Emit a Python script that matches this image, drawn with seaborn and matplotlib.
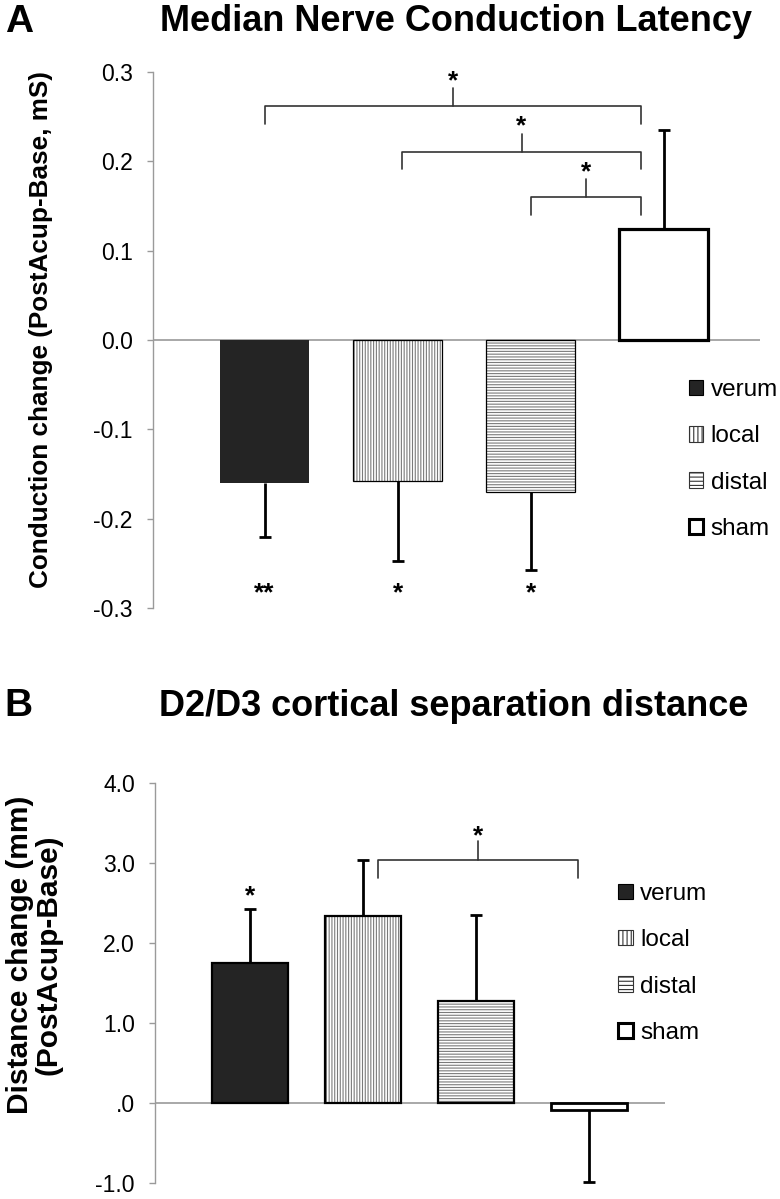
import numpy as np
import pandas as pd
import matplotlib
matplotlib.use('Agg')
import matplotlib.pyplot as plt
import seaborn as sns
from matplotlib.patches import Rectangle, Patch
from matplotlib.ticker import FixedLocator, FixedFormatter

groups = ['verum', 'local', 'distal', 'sham']

# panel A: median nerve conduction latency change (mS)
latency_mean = [-0.160, -0.158, -0.170, 0.124]
latency_err = [0.061, 0.089, 0.088, 0.111]
latency_stars = ['**', '*', '*', '']
latency_ticks = [-0.3, -0.2, -0.1, 0.0, 0.1, 0.2, 0.3]
latency_ticklabels = ['-0.3', '-0.2', '-0.1', '0.0', '0.1', '0.2', '0.3']

# panel B: D2/D3 cortical separation distance change (mm)
distance_mean = [1.75, 2.34, 1.275, -0.087]
distance_err = [0.68, 0.70, 1.075, 0.90]
distance_stars = ['*', '', '', '']
distance_ticks = [-1.0, 0.0, 1.0, 2.0, 3.0, 4.0]
distance_ticklabels = ['-1.0', '.0', '1.0', '2.0', '3.0', '4.0']

fills = ['#242424', 'white', 'white', 'white']
hatches = [None, '||||||', '------', None]

sns.set_style('white')
plt.rcParams['font.family'] = ['Liberation Sans', 'DejaVu Sans']
plt.rcParams['text.color'] = 'black'
plt.rcParams['ytick.color'] = 'black'
plt.rcParams['hatch.linewidth'] = 0.8

STAR_SIZE = 19


def draw_panel(ax, means, errs, edge_lw, sham_lw, no_edge_first=False):
    df = pd.DataFrame({'group': groups, 'value': means})
    sns.barplot(data=df, x='group', y='value', hue='group', palette=fills,
                width=0.67, errorbar=None, legend=False, ax=ax, saturation=1)
    centers = []
    for i, p in enumerate(ax.patches[:4]):
        p.set_linewidth(0)
        if hatches[i]:
            p.set_hatch(hatches[i])
            p.set_edgecolor('#7a7a7a')
        lw = sham_lw if i == 3 else edge_lw
        if not (no_edge_first and i == 0):
            ax.add_patch(Rectangle((p.get_x(), p.get_y()), p.get_width(), p.get_height(),
                                   fill=False, ec='black', lw=lw, zorder=3))
        centers.append(p.get_x() + p.get_width() / 2)
    means = np.array(means)
    errs = np.array(errs)
    lower = np.where(means < 0, errs, 0)
    upper = np.where(means >= 0, errs, 0)
    _, caps, _ = ax.errorbar(centers, means, yerr=[lower, upper], fmt='none',
                             ecolor='black', elinewidth=2, capsize=4.5, capthick=2,
                             zorder=0.5)
    # keep only the cap at the far end of each one-sided bar
    xs = np.array(centers)
    caps[0].set_data(xs[lower > 0], (means - lower)[lower > 0])
    caps[1].set_data(xs[upper > 0], (means + upper)[upper > 0])
    ax.axhline(0, color='#9a9a9a', lw=1.2, zorder=0.4)
    sns.despine(ax=ax, bottom=True)
    ax.spines['left'].set_color('#9a9a9a')
    ax.spines['left'].set_linewidth(1)
    ax.set_xticks([])
    ax.set_xlabel('')
    ax.set_ylabel('')
    ax.tick_params(axis='y', direction='out', length=4.5, width=1, color='#9a9a9a',
                   labelcolor='black', labelsize=16.5, pad=10, left=True)
    return centers


def bracket(ax, x0, x1, y, leg, star_dy):
    xm = (x0 + x1) / 2
    ax.plot([x0, x0, x1, x1], [y - leg, y, y, y - leg], color='#333333', lw=1.2)
    ax.plot([xm, xm], [y, y + leg], color='#333333', lw=1.2)
    ax.text(xm, y + leg + star_dy, '*', ha='center', va='center', fontsize=STAR_SIZE,
            fontweight='bold')


def legend_handles():
    return [Patch(facecolor=fills[0], edgecolor='black', lw=0.8),
            Patch(facecolor='white', edgecolor='#333333', hatch='||||', lw=0.8),
            Patch(facecolor='white', edgecolor='#333333', hatch='----', lw=0.8),
            Patch(facecolor='white', edgecolor='black', lw=2.2)]


legend_kw = dict(loc='upper left', frameon=False, fontsize=17.5,
                 handlelength=0.6, handleheight=0.6, handletextpad=0.3,
                 labelspacing=1.0, borderpad=0, borderaxespad=0)

fig = plt.figure(figsize=(7.8, 11.99), dpi=100)

# ---- panel A
axA = fig.add_axes([0.196, 0.4929, 0.778, 0.447])
cA = draw_panel(axA, latency_mean, latency_err, edge_lw=0.9, sham_lw=2.3,
                no_edge_first=True)
axA.set_ylim(-0.3, 0.3)
axA.set_xlim(-0.84, 3.72)
axA.yaxis.set_major_locator(FixedLocator(latency_ticks))
axA.yaxis.set_major_formatter(FixedFormatter(latency_ticklabels))
for x, s in zip(cA, latency_stars):
    if s:
        axA.text(x, -0.283, s, ha='center', va='center', fontsize=STAR_SIZE,
                 fontweight='bold')
bracket(axA, cA[0], cA[3] - 0.17, 0.262, 0.02, 0.008)
bracket(axA, cA[1] + 0.03, cA[3] - 0.17, 0.211, 0.02, 0.008)
bracket(axA, cA[2], cA[3] - 0.17, 0.160, 0.02, 0.008)
axA.legend(handles=legend_handles(), labels=groups,
           bbox_to_anchor=(0.883, 0.427), **legend_kw)

fig.text(0.006, 0.982, 'A', fontsize=28, fontweight='bold', ha='left', va='center')
fig.text(0.585, 0.982, 'Median Nerve Conduction Latency', fontsize=26,
         fontweight='bold', ha='center', va='center')
fig.text(0.052, 0.7248, 'Conduction change (PostAcup-Base, mS)', rotation=90,
         fontsize=18.8, fontweight='bold', ha='center', va='center')

# ---- panel B
axB = fig.add_axes([0.1987, 0.01334, 0.654, 0.3336])
cB = draw_panel(axB, distance_mean, distance_err, edge_lw=1.6, sham_lw=2.0)
axB.set_ylim(-1.0, 4.0)
axB.set_xlim(-0.84, 3.67)
axB.yaxis.set_major_locator(FixedLocator(distance_ticks))
axB.yaxis.set_major_formatter(FixedFormatter(distance_ticklabels))
for x, m, e, s in zip(cB, distance_mean, distance_err, distance_stars):
    if s:
        axB.text(x, m + e + 0.15, s, ha='center', va='center', fontsize=STAR_SIZE,
                 fontweight='bold')
bracket(axB, cB[1] + 0.13, cB[3] - 0.1, 3.04, 0.23, 0.07)
axB.legend(handles=legend_handles(), labels=groups,
           bbox_to_anchor=(0.908, 0.75), **legend_kw)

fig.text(0.006, 0.411, 'B', fontsize=28, fontweight='bold', ha='left', va='center')
fig.text(0.582, 0.411, 'D2/D3 cortical separation distance', fontsize=26,
         fontweight='bold', ha='center', va='center')
fig.text(0.044, 0.2035, 'Distance change (mm)\n(PostAcup-Base)', rotation=90,
         fontsize=21.5, fontweight='bold', ha='center', va='center', linespacing=1.05)

fig.savefig('out.png', dpi=100)
